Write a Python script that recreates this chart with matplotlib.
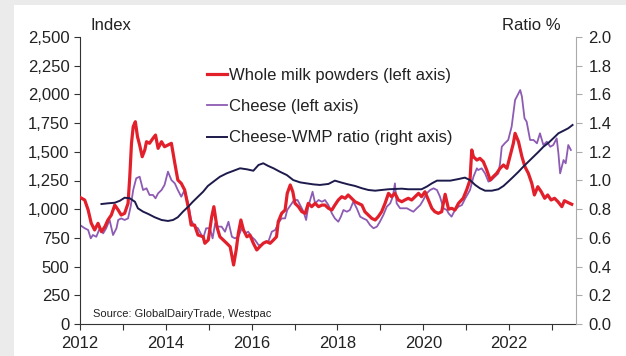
import matplotlib
matplotlib.use("Agg")
import matplotlib.pyplot as plt
from matplotlib.patches import Rectangle
from matplotlib.ticker import MultipleLocator, FuncFormatter

plt.rcParams['font.family'] = ['Liberation Sans', 'DejaVu Sans']

# Whole milk powders index (left axis), dates as fractional years
wmp_t = [2012.00, 2012.11, 2012.19, 2012.26, 2012.34, 2012.42, 2012.50, 2012.58, 2012.65, 2012.73,
         2012.81, 2012.89, 2012.96, 2013.04, 2013.12, 2013.16, 2013.20, 2013.24, 2013.29, 2013.34,
         2013.39, 2013.45, 2013.51, 2013.55, 2013.62, 2013.70, 2013.76, 2013.82, 2013.90, 2013.97,
         2014.05, 2014.13, 2014.21, 2014.28, 2014.36, 2014.44, 2014.52, 2014.59, 2014.67, 2014.75,
         2014.87, 2014.91, 2014.99, 2015.07, 2015.12, 2015.19, 2015.26, 2015.34, 2015.42, 2015.50,
         2015.58, 2015.64, 2015.69, 2015.75, 2015.81, 2015.89, 2015.96, 2016.04, 2016.12, 2016.19,
         2016.27, 2016.35, 2016.43, 2016.51, 2016.58, 2016.62, 2016.70, 2016.78, 2016.83, 2016.90,
         2016.96, 2017.01, 2017.09, 2017.17, 2017.25, 2017.32, 2017.40, 2017.48, 2017.56, 2017.64,
         2017.71, 2017.79, 2017.87, 2017.94, 2018.02, 2018.10, 2018.18, 2018.25, 2018.33, 2018.41,
         2018.49, 2018.57, 2018.64, 2018.72, 2018.80, 2018.88, 2018.95, 2019.03, 2019.11, 2019.19,
         2019.26, 2019.34, 2019.42, 2019.50, 2019.57, 2019.65, 2019.73, 2019.81, 2019.89, 2019.96,
         2020.04, 2020.12, 2020.20, 2020.27, 2020.35, 2020.43, 2020.51, 2020.59, 2020.66, 2020.74,
         2020.82, 2020.93, 2021.01, 2021.09, 2021.13, 2021.17, 2021.25, 2021.32, 2021.40, 2021.48,
         2021.56, 2021.63, 2021.71, 2021.79, 2021.87, 2021.95, 2022.02, 2022.10, 2022.14, 2022.22,
         2022.30, 2022.37, 2022.45, 2022.53, 2022.59, 2022.67, 2022.75, 2022.83, 2022.90, 2022.98,
         2023.06, 2023.14, 2023.23, 2023.29, 2023.38, 2023.46]
wmp_v = [1103, 1080, 993, 880, 819, 877, 804, 848, 906, 949,
         1036, 993, 949, 964, 1051, 1283, 1574, 1719, 1762, 1631,
         1559, 1457, 1516, 1588, 1574, 1617, 1646, 1530, 1588, 1544,
         1559, 1574, 1400, 1254, 1225, 1167, 1022, 862, 862, 775,
         760, 703, 732, 935, 1022, 848, 760, 732, 703, 673,
         514, 645, 790, 906, 819, 760, 775, 703, 645, 673,
         703, 717, 703, 732, 760, 891, 964, 993, 1138, 1211,
         1152, 1051, 1022, 978, 964, 1051, 1022, 1051, 1022, 1036,
         1036, 1008, 993, 1036, 1080, 1109, 1095, 1124, 1095, 1065,
         1051, 1036, 978, 949, 920, 906, 935, 978, 1051, 1138,
         1109, 1138, 1080, 1065, 1080, 1095, 1080, 1109, 1138, 1109,
         1152, 1080, 1008, 978, 964, 978, 1130, 1000, 1008, 993,
         1051, 1095, 1167, 1254, 1516, 1457, 1428, 1443, 1414, 1341,
         1254, 1283, 1312, 1356, 1385, 1356, 1457, 1574, 1661, 1588,
         1457, 1370, 1312, 1225, 1124, 1196, 1152, 1095, 1124, 1080,
         1095, 1065, 1022, 1074, 1057, 1043]

# Cheese index (left axis)
cheese_t = [2012.00, 2012.11, 2012.19, 2012.25, 2012.30, 2012.38, 2012.46, 2012.54, 2012.61, 2012.69,
            2012.77, 2012.85, 2012.89, 2012.96, 2013.04, 2013.12, 2013.18, 2013.24, 2013.31, 2013.39,
            2013.47, 2013.55, 2013.62, 2013.70, 2013.76, 2013.82, 2013.90, 2013.97, 2014.05, 2014.13,
            2014.21, 2014.28, 2014.36, 2014.44, 2014.52, 2014.59, 2014.67, 2014.75, 2014.87, 2014.94,
            2015.03, 2015.09, 2015.15, 2015.22, 2015.30, 2015.38, 2015.46, 2015.54, 2015.61, 2015.69,
            2015.77, 2015.85, 2015.92, 2016.00, 2016.08, 2016.16, 2016.24, 2016.31, 2016.39, 2016.47,
            2016.55, 2016.62, 2016.70, 2016.78, 2016.83, 2016.91, 2016.99, 2017.07, 2017.13, 2017.21,
            2017.27, 2017.32, 2017.42, 2017.48, 2017.56, 2017.64, 2017.71, 2017.79, 2017.87, 2017.94,
            2018.02, 2018.08, 2018.14, 2018.22, 2018.29, 2018.37, 2018.45, 2018.53, 2018.60, 2018.68,
            2018.76, 2018.84, 2018.92, 2018.99, 2019.07, 2019.15, 2019.23, 2019.29, 2019.34, 2019.38,
            2019.46, 2019.54, 2019.62, 2019.69, 2019.77, 2019.85, 2019.93, 2020.00, 2020.08, 2020.16,
            2020.24, 2020.32, 2020.39, 2020.47, 2020.55, 2020.59, 2020.66, 2020.74, 2020.82, 2020.90,
            2020.98, 2021.09, 2021.17, 2021.25, 2021.28, 2021.36, 2021.44, 2021.52, 2021.59, 2021.67,
            2021.75, 2021.79, 2021.83, 2021.90, 2021.98, 2022.06, 2022.14, 2022.22, 2022.26, 2022.30,
            2022.36, 2022.41, 2022.49, 2022.57, 2022.65, 2022.72, 2022.80, 2022.88, 2022.96, 2023.03,
            2023.11, 2023.15, 2023.19, 2023.27, 2023.32, 2023.38, 2023.44]
cheese_v = [862, 834, 819, 746, 775, 760, 834, 790, 834, 906,
            775, 834, 906, 920, 906, 920, 1022, 1167, 1269, 1283,
            1167, 1182, 1124, 1124, 1095, 1138, 1167, 1211, 1327, 1254,
            1225, 1167, 1109, 1167, 1051, 906, 848, 834, 746, 834,
            834, 746, 877, 848, 848, 804, 891, 760, 746, 760,
            834, 790, 804, 760, 732, 688, 688, 717, 717, 804,
            819, 877, 920, 920, 993, 1036, 1080, 1080, 1036, 978,
            906, 1022, 1152, 1051, 1080, 1065, 1080, 1036, 964, 920,
            891, 935, 993, 978, 993, 1065, 1008, 935, 920, 906,
            862, 834, 848, 891, 949, 1022, 1051, 1109, 1225, 1051,
            1008, 1008, 1008, 993, 978, 1008, 1036, 1080, 1138, 1167,
            1182, 1167, 1109, 1008, 993, 964, 935, 993, 1022, 1036,
            1095, 1167, 1283, 1356, 1341, 1356, 1312, 1240, 1254, 1283,
            1312, 1400, 1544, 1574, 1603, 1719, 1951, 2009, 2038, 1980,
            1792, 1762, 1603, 1603, 1574, 1661, 1559, 1588, 1544, 1559,
            1617, 1487, 1312, 1428, 1400, 1559, 1516]

# Cheese-WMP ratio (right axis)
ratio_t = [2012.50, 2012.65, 2012.81, 2012.93, 2013.04, 2013.16, 2013.28, 2013.35, 2013.47, 2013.59,
           2013.74, 2013.90, 2014.05, 2014.17, 2014.28, 2014.40, 2014.52, 2014.63, 2014.75, 2014.87,
           2014.98, 2015.11, 2015.26, 2015.42, 2015.58, 2015.73, 2015.89, 2016.04, 2016.16, 2016.27,
           2016.39, 2016.51, 2016.66, 2016.82, 2016.97, 2017.13, 2017.28, 2017.44, 2017.59, 2017.79,
           2017.94, 2018.10, 2018.25, 2018.41, 2018.57, 2018.72, 2018.88, 2019.03, 2019.19, 2019.34,
           2019.50, 2019.65, 2019.81, 2019.96, 2020.08, 2020.20, 2020.32, 2020.47, 2020.63, 2020.82,
           2020.97, 2021.09, 2021.21, 2021.32, 2021.44, 2021.60, 2021.75, 2021.87, 2021.98, 2022.10,
           2022.22, 2022.33, 2022.45, 2022.57, 2022.69, 2022.80, 2022.92, 2023.03, 2023.15, 2023.27,
           2023.38, 2023.48]
ratio_v = [0.836, 0.841, 0.845, 0.859, 0.880, 0.876, 0.852, 0.806, 0.783, 0.767,
           0.744, 0.725, 0.718, 0.725, 0.744, 0.783, 0.817, 0.852, 0.887, 0.922,
           0.962, 0.992, 1.026, 1.050, 1.068, 1.085, 1.078, 1.068, 1.108, 1.120,
           1.101, 1.085, 1.061, 1.038, 1.003, 0.987, 0.980, 0.973, 0.969, 0.976,
           0.999, 0.985, 0.973, 0.962, 0.946, 0.934, 0.929, 0.934, 0.939, 0.941,
           0.943, 0.939, 0.939, 0.939, 0.957, 0.980, 0.999, 0.999, 0.999, 1.010,
           1.020, 1.003, 0.969, 0.946, 0.929, 0.929, 0.939, 0.962, 0.992, 1.026,
           1.061, 1.096, 1.131, 1.166, 1.201, 1.235, 1.263, 1.294, 1.329, 1.347,
           1.364, 1.387]

red = '#e2202b'
purple = '#8d5bb3'
navy = '#1d1a4c'
text_col = '#222222'
fs = 12

fig = plt.figure(figsize=(6.26, 3.56), dpi=100, facecolor='#ebebeb')
panel = Rectangle((14 / 626, 0), 1, 1 - 5 / 356, transform=fig.transFigure,
                  facecolor='white', edgecolor='none', zorder=-10)
fig.add_artist(panel)

ax = fig.add_axes([80 / 626, 1 - 324 / 356, 496 / 626, 287 / 356])
ax.set_facecolor('none')
ax2 = ax.twinx()

l1, = ax.plot(wmp_t, wmp_v, color=red, lw=2.3, label='Whole milk powders (left axis)', zorder=3)
l2, = ax.plot(cheese_t, cheese_v, color=purple, lw=1.3, label='Cheese (left axis)', zorder=2)
l3, = ax2.plot(ratio_t, ratio_v, color=navy, lw=1.4, label='Cheese-WMP ratio (right axis)')

ax.set_xlim(2012, 2023.56)
ax.set_ylim(0, 2500)
ax2.set_ylim(0, 2.0)

ax.xaxis.set_major_locator(MultipleLocator(1))
ax.xaxis.set_major_formatter(FuncFormatter(lambda v, p: f'{int(round(v))}' if int(round(v)) % 2 == 0 else ''))
ax.yaxis.set_major_locator(MultipleLocator(250))
ax.yaxis.set_major_formatter(FuncFormatter(lambda v, p: f'{int(v):,}'))
ax2.yaxis.set_major_locator(MultipleLocator(0.2))
ax2.yaxis.set_major_formatter(FuncFormatter(lambda v, p: f'{v:.1f}'))

for a in (ax, ax2):
    a.spines['top'].set_visible(False)
ax.spines['right'].set_visible(False)
ax2.spines['left'].set_visible(False)
ax2.spines['bottom'].set_visible(False)
ax.spines['left'].set_color('#333333')
ax.spines['bottom'].set_color('#333333')
ax2.spines['right'].set_color('#aaaaaa')

ax.tick_params(axis='both', labelsize=fs, colors='#333333', labelcolor=text_col,
               length=4, direction='out', width=0.8)
ax.tick_params(axis='x', pad=5)
ax2.tick_params(axis='y', labelsize=fs, colors='#aaaaaa', labelcolor=text_col,
                length=4, direction='out', width=0.8, pad=5)

fig.text(90 / 626, 1 - 25 / 356, 'Index', fontsize=fs,
         color=text_col, ha='left', va='center')
fig.text(561 / 626, 1 - 25 / 356, 'Ratio %', fontsize=fs,
         color=text_col, ha='right', va='center')
ax.text(0.027, 0.035, 'Source: GlobalDairyTrade, Westpac', transform=ax.transAxes,
        fontsize=8, color=text_col, ha='left', va='center')

leg = ax2.legend(handles=[l1, l2, l3], loc='upper left', bbox_to_anchor=(0.256, 0.893),
                 frameon=False, fontsize=fs, handlelength=1.2, handletextpad=0.12,
                 labelspacing=0.98, borderpad=0, borderaxespad=0)
for t in leg.get_texts():
    t.set_color(text_col)

fig.savefig('out.png', dpi=100, facecolor=fig.get_facecolor())
